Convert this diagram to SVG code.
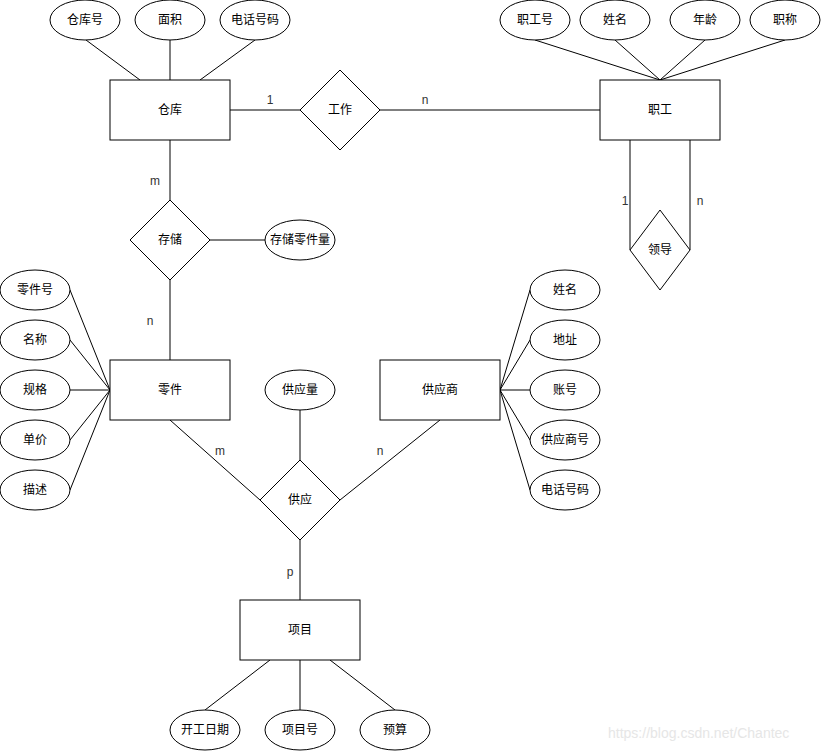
<svg xmlns="http://www.w3.org/2000/svg" width="821" height="751" viewBox="0 0 821 751">
<style>
.s{fill:#fff;stroke:#000;stroke-width:1}
.l{stroke:#000;stroke-width:1;fill:none}
text{font-family:"Liberation Sans","Noto Sans CJK SC",sans-serif;font-size:12px;fill:#000;text-anchor:middle;dominant-baseline:central}
.c{fill:#333}
.w{fill:#e6e6e6;font-size:14px;text-anchor:start}
</style>
<rect width="821" height="751" fill="#fff"/>
<g id="connectors">
<path class="l" d="M86,40L140,80M170,40V80M255,40L200,80M230,110H300M380,110H600"/>
<path class="l" d="M535,40L660,80M615,40L660,80M705,40L660,80M785,40L660,80M630,140V250M690,140V250"/>
<path class="l" d="M170,140V200M210,240H265M170,280V360"/>
<path class="l" d="M70,290L110,390M70,340L110,390M70,390H110M70,440L110,390M70,490L110,390"/>
<path class="l" d="M530,290L500,390M530,340L500,390M530,390H500M530,440L500,390M530,490L500,390"/>
<path class="l" d="M170,420L260,500M440,420L340,500M300,410V460M300,540V600"/>
<path class="l" d="M270,660L205,710M300,660V710M330,660L395,710"/>
<text class="c" x="270" y="100">1</text>
<text class="c" x="425" y="100">n</text>
<text class="c" x="625" y="201">1</text>
<text class="c" x="700" y="201">n</text>
<text class="c" x="155" y="181">m</text>
<text class="c" x="150" y="321">n</text>
<text class="c" x="220" y="451">m</text>
<text class="c" x="380" y="451">n</text>
<text class="c" x="290" y="572">p</text>
</g>
<g id="cangku"><rect class="s" x="110" y="80" width="120" height="60"/><text x="170" y="110">仓库</text></g>
<g id="cangkuhao"><ellipse class="s" cx="85" cy="20" rx="35" ry="20"/><text x="85" y="20">仓库号</text></g>
<g id="mianji"><ellipse class="s" cx="170" cy="20" rx="35" ry="20"/><text x="170" y="20">面积</text></g>
<g id="dianhua1"><ellipse class="s" cx="255" cy="20" rx="35" ry="20"/><text x="255" y="20">电话号码</text></g>
<g id="gongzuo"><path class="s" d="M340,70L380,110L340,150L300,110Z"/><text x="340" y="110">工作</text></g>
<g id="zhigong"><rect class="s" x="600" y="80" width="120" height="60"/><text x="660" y="110">职工</text></g>
<g id="zhigonghao"><ellipse class="s" cx="535" cy="20" rx="35" ry="20"/><text x="535" y="20">职工号</text></g>
<g id="xingming1"><ellipse class="s" cx="615" cy="20" rx="35" ry="20"/><text x="615" y="20">姓名</text></g>
<g id="nianling"><ellipse class="s" cx="705" cy="20" rx="35" ry="20"/><text x="705" y="20">年龄</text></g>
<g id="zhicheng"><ellipse class="s" cx="785" cy="20" rx="35" ry="20"/><text x="785" y="20">职称</text></g>
<g id="lingdao"><path class="s" d="M660,210L690,250L660,290L630,250Z"/><text x="660" y="250">领导</text></g>
<g id="cunchu"><path class="s" d="M170,200L210,240L170,280L130,240Z"/><text x="170" y="240">存储</text></g>
<g id="cunchuliang"><ellipse class="s" cx="300" cy="240" rx="35" ry="20"/><text x="300" y="240">存储零件量</text></g>
<g id="lingjian"><rect class="s" x="110" y="360" width="120" height="60"/><text x="170" y="390">零件</text></g>
<g id="lingjianhao"><ellipse class="s" cx="35" cy="290" rx="35" ry="20"/><text x="35" y="290">零件号</text></g>
<g id="mingcheng"><ellipse class="s" cx="35" cy="340" rx="35" ry="20"/><text x="35" y="340">名称</text></g>
<g id="guige"><ellipse class="s" cx="35" cy="390" rx="35" ry="20"/><text x="35" y="390">规格</text></g>
<g id="danjia"><ellipse class="s" cx="35" cy="440" rx="35" ry="20"/><text x="35" y="440">单价</text></g>
<g id="miaoshu"><ellipse class="s" cx="35" cy="490" rx="35" ry="20"/><text x="35" y="490">描述</text></g>
<g id="gongyingliang"><ellipse class="s" cx="300" cy="390" rx="35" ry="20"/><text x="300" y="390">供应量</text></g>
<g id="gongying"><path class="s" d="M300,460L340,500L300,540L260,500Z"/><text x="300" y="500">供应</text></g>
<g id="gongyingshang"><rect class="s" x="380" y="360" width="120" height="60"/><text x="440" y="390">供应商</text></g>
<g id="xingming2"><ellipse class="s" cx="565" cy="290" rx="35" ry="20"/><text x="565" y="290">姓名</text></g>
<g id="dizhi"><ellipse class="s" cx="565" cy="340" rx="35" ry="20"/><text x="565" y="340">地址</text></g>
<g id="zhanghao"><ellipse class="s" cx="565" cy="390" rx="35" ry="20"/><text x="565" y="390">账号</text></g>
<g id="gongyingshanghao"><ellipse class="s" cx="565" cy="440" rx="35" ry="20"/><text x="565" y="440">供应商号</text></g>
<g id="dianhua2"><ellipse class="s" cx="565" cy="490" rx="35" ry="20"/><text x="565" y="490">电话号码</text></g>
<g id="xiangmu"><rect class="s" x="240" y="600" width="120" height="60"/><text x="300" y="630">项目</text></g>
<g id="kaigong"><ellipse class="s" cx="205" cy="730" rx="35" ry="20"/><text x="205" y="730">开工日期</text></g>
<g id="xiangmuhao"><ellipse class="s" cx="300" cy="730" rx="35" ry="20"/><text x="300" y="730">项目号</text></g>
<g id="yusuan"><ellipse class="s" cx="395" cy="730" rx="35" ry="20"/><text x="395" y="730">预算</text></g>
<text class="w" x="608" y="733">https://blog.csdn.net/Chantec</text>
</svg>
